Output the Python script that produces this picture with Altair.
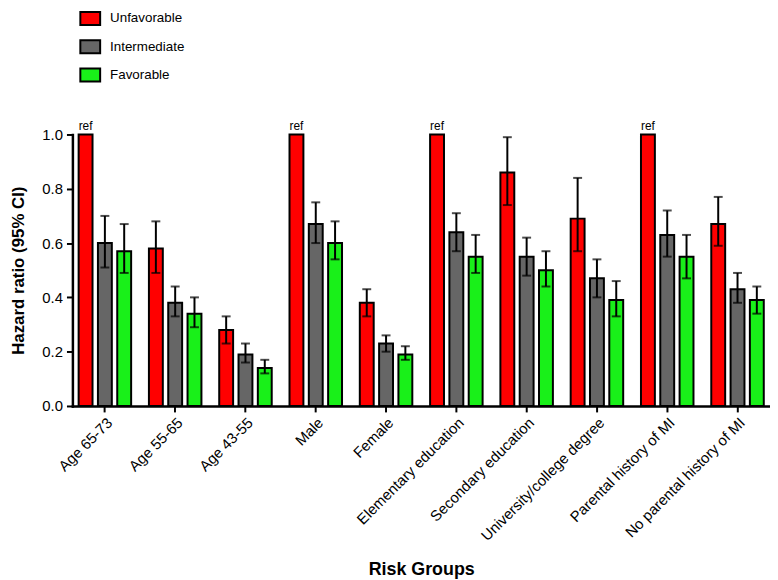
import altair as alt
import pandas as pd

categories = ["Age 65-73", "Age 55-65", "Age 43-55", "Male", "Female",
              "Elementary education", "Secondary education", "University/college degree",
              "Parental history of MI", "No parental history of MI"]
groups = ["Unfavorable", "Intermediate", "Favorable"]
colors = ["#ff0000", "#666666", "#19f019"]

unfav = [1.0, 0.58, 0.28, 1.0, 0.38, 1.0, 0.86, 0.69, 1.0, 0.67]
unfav_lo = [None, 0.49, 0.23, None, 0.33, None, 0.74, 0.57, None, 0.59]
unfav_hi = [None, 0.68, 0.33, None, 0.43, None, 0.99, 0.84, None, 0.77]
inter = [0.60, 0.38, 0.19, 0.67, 0.23, 0.64, 0.55, 0.47, 0.63, 0.43]
inter_lo = [0.51, 0.33, 0.16, 0.60, 0.20, 0.57, 0.48, 0.40, 0.55, 0.38]
inter_hi = [0.70, 0.44, 0.23, 0.75, 0.26, 0.71, 0.62, 0.54, 0.72, 0.49]
fav = [0.57, 0.34, 0.14, 0.60, 0.19, 0.55, 0.50, 0.39, 0.55, 0.39]
fav_lo = [0.49, 0.29, 0.12, 0.54, 0.17, 0.49, 0.44, 0.33, 0.47, 0.34]
fav_hi = [0.67, 0.40, 0.17, 0.68, 0.22, 0.63, 0.57, 0.46, 0.63, 0.44]

rows = []
for g, vals, los, his in [("Unfavorable", unfav, unfav_lo, unfav_hi),
                          ("Intermediate", inter, inter_lo, inter_hi),
                          ("Favorable", fav, fav_lo, fav_hi)]:
    for c, v, lo, hi in zip(categories, vals, los, his):
        rows.append({"category": c, "group": g, "hr": v, "lo": lo, "hi": hi,
                     "ref": lo is None, "label": "ref" if lo is None else ""})
df = pd.DataFrame(rows)

FONT = "Liberation Sans"

xenc = alt.X("category:N", sort=categories,
             scale=alt.Scale(paddingInner=0.176, paddingOuter=0.05),
             axis=alt.Axis(title="Risk Groups", labelAngle=-45, labelFontSize=15,
                           labelFont=FONT, labelColor="black", labelPadding=3,
                           tickSize=6, tickWidth=2, tickColor="black",
                           domainColor="black", domainWidth=2.5,
                           titleFont=FONT, titleFontSize=18, titleFontWeight="bold",
                           titleColor="black", titleY=170, titleBaseline="alphabetic"))
xoff = alt.XOffset("group:N", sort=groups,
                   scale=alt.Scale(paddingInner=0.28, paddingOuter=0.14))

base = alt.Chart(df).encode(x=xenc, xOffset=xoff)

bars = base.mark_bar(stroke="black", strokeWidth=2).encode(
    y=alt.Y("hr:Q", scale=alt.Scale(domain=[0, 1], nice=False),
            axis=alt.Axis(title="Hazard ratio (95% CI)", values=[0, 0.2, 0.4, 0.6, 0.8, 1.0],
                          format=".1f", labelFontSize=15, labelFont=FONT, labelColor="black",
                          labelPadding=4, tickSize=6, tickWidth=2, tickColor="black",
                          domainColor="black", domainWidth=2.5, grid=False,
                          titleFont=FONT, titleFontSize=17, titleFontWeight="bold",
                          titleColor="black", titlePadding=15)),
    color=alt.Color("group:N", sort=groups,
                    scale=alt.Scale(domain=groups, range=colors),
                    legend=alt.Legend(title=None, orient="none", legendX=7, legendY=-128,
                                      symbolType="M-1,-0.65H1V0.65H-1Z", symbolSize=400,
                                      symbolStrokeColor="black", symbolStrokeWidth=2,
                                      labelFont=FONT, labelFontSize=13.5, labelColor="black",
                                      labelOffset=9, rowPadding=6.5, padding=0, offset=0)),
)

err = base.transform_filter("!datum.ref")
rules = err.mark_rule(color="black", strokeWidth=2).encode(y="lo:Q", y2="hi:Q")
cap_lo = err.mark_tick(color="black", size=9, thickness=2).encode(y="lo:Q")
cap_hi = err.mark_tick(color="black", size=9, thickness=2).encode(y="hi:Q")

ref_text = base.transform_filter("datum.ref").mark_text(
    dy=-9, fontSize=12, font=FONT, color="black").encode(y="hr:Q", text="label:N")

chart = alt.layer(bars, rules, cap_lo, cap_hi, ref_text).properties(
    width=704, height=274,
    autosize=alt.AutoSizeParams(type="none"),
    padding={"left": 65, "top": 125, "right": 0, "bottom": 173},
).configure_view(stroke=None).configure_axis(domainCap="square")

chart.save("out.html", embed_options={"renderer": "svg", "actions": False})
